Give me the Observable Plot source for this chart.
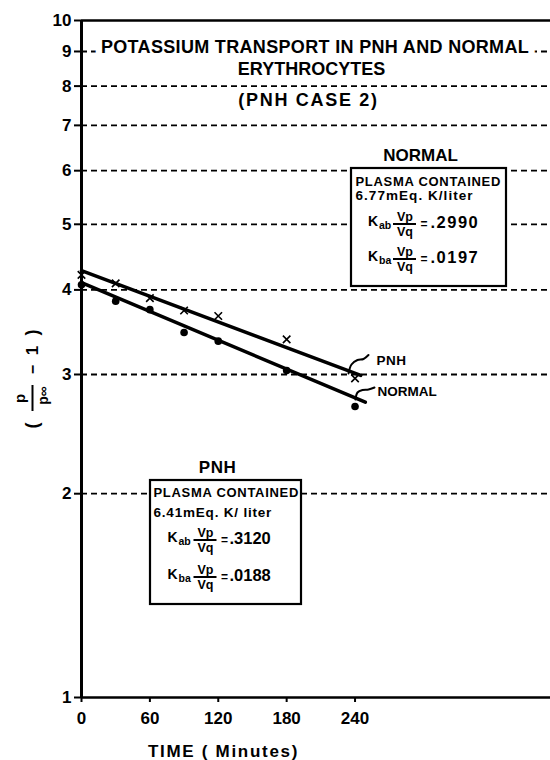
<!DOCTYPE html>
<html><head><meta charset="utf-8">
<script src="https://cdn.jsdelivr.net/npm/d3@7"></script>
<script src="https://cdn.jsdelivr.net/npm/@observablehq/plot@0.6"></script>
<style>body{margin:0;background:#fff}</style>
</head><body><div id="chart"></div>
<script>
// ---- data ----
const times = [0, 30, 60, 90, 120, 180, 240];
const pnhValues = [4.21, 4.09, 3.89, 3.73, 3.66, 3.38, 2.96];
const normalValues = [4.07, 3.85, 3.74, 3.46, 3.36, 3.04, 2.69];
const pnhFitTimes = [0, 245];
const pnhFitValues = [4.27, 2.99];
const normalFitTimes = [0, 249];
const normalFitValues = [4.10, 2.73];
const yTicks = [1, 2, 3, 4, 5, 6, 7, 8, 9, 10];
const gridValues = [2, 3, 4, 5, 6, 7, 8, 9];
const xTicks = [0, 60, 120, 180, 240];
const titleLines = ["POTASSIUM TRANSPORT IN PNH AND NORMAL", "ERYTHROCYTES", "(PNH CASE 2)"];

// ---- layout ----
const W = 550, H = 760, ML = 81, MT = 20, MB = 63, MR = 0;
const xMax = 411.5;
const X = px => (px - ML) / (W - ML - MR) * xMax;
const Y = py => Math.pow(10, (H - MB - py) / (H - MB - MT));
const FONT = "Liberation Sans, Arial, Helvetica, sans-serif";

const pnh = times.map((t, i) => ({t, v: pnhValues[i]}));
const normal = times.map((t, i) => ({t, v: normalValues[i]}));
const pnhFit = pnhFitTimes.map((t, i) => ({t, v: pnhFitValues[i]}));
const normalFit = normalFitTimes.map((t, i) => ({t, v: normalFitValues[i]}));

function T(s, px, py, o = {}) {
  return Plot.text([{t: X(px), v: Y(py), s}], {
    x: "t", y: "v", text: "s", fontWeight: "bold", fill: "black",
    lineAnchor: "middle", ...o
  });
}
function bar(px1, px2, py, w = 2) {
  return Plot.ruleY([{a: X(px1), b: X(px2), v: Y(py)}], {x1: "a", x2: "b", y: "v", stroke: "black", strokeWidth: w});
}
function vbar(px, py1, py2, w = 2) {
  return Plot.ruleX([{t: X(px), a: Y(py1), b: Y(py2)}], {x: "t", y1: "a", y2: "b", stroke: "black", strokeWidth: w});
}
function box(x1, y1, x2, y2) {
  return Plot.rect([{a: X(x1), b: X(x2), c: Y(y1), d: Y(y2)}], {x1: "a", x2: "b", y1: "c", y2: "d", fill: "white", stroke: "black", strokeWidth: 2.2});
}
function kRow(sub, kx, ky, fx, value, vx) {
  return [
    T("K", kx, ky, {fontSize: 14}),
    T(sub, kx + 6, ky + 4, {fontSize: 10.5, textAnchor: "start"}),
    T("Vp", fx, ky - 5, {fontSize: 12.5}),
    bar(fx - 11.5, fx + 11.5, ky + 2.5),
    T("Vq", fx, ky + 10, {fontSize: 12.5}),
    T("=", fx + 19, ky + 3, {fontSize: 12}),
    T(value, vx, ky + 1, {fontSize: 16.5, textAnchor: "start"})
  ];
}
function leader(pts) {
  return Plot.line(pts.map(([px, py]) => ({t: X(px), v: Y(py)})), {x: "t", y: "v", curve: "catmull-rom", stroke: "black", strokeWidth: 2});
}

const chart = Plot.plot({
  width: W, height: H,
  marginLeft: ML, marginTop: MT, marginBottom: MB, marginRight: MR,
  style: {fontFamily: FONT, background: "white", color: "black", overflow: "visible"},
  x: {domain: [0, xMax]},
  y: {type: "log", domain: [1, 10]},
  marks: [
    Plot.ruleY(gridValues, {stroke: "black", strokeWidth: 1.8, strokeDasharray: "6,4"}),
    Plot.ruleY([10], {stroke: "black", strokeWidth: 2.5}),
    Plot.ruleY([1], {stroke: "black", strokeWidth: 2.5}),
    Plot.ruleX([0], {stroke: "black", strokeWidth: 3}),
    Plot.axisY({ticks: yTicks, tickFormat: d => String(d), tickSize: 7, tickPadding: 3, fontSize: 17, fontWeight: "bold", strokeWidth: 2, label: null}),
    Plot.axisX({ticks: xTicks, tickFormat: d => String(d), tickSize: 5, tickPadding: 9, fontSize: 17, fontWeight: "bold", strokeWidth: 2, label: null}),
    // title
    T(titleLines[0], 314.5, 46.5, {fontSize: 18, stroke: "white", strokeWidth: 13}),
    T(titleLines[1], 311, 68.5, {fontSize: 18}),
    T(titleLines[2], 308, 100, {fontSize: 18}),
    // fitted lines and points
    Plot.line(pnhFit, {x: "t", y: "v", stroke: "black", strokeWidth: 3.5}),
    Plot.line(normalFit, {x: "t", y: "v", stroke: "black", strokeWidth: 3.5}),
    Plot.dot(pnh, {x: "t", y: "v", symbol: "times", r: 3.5, stroke: "black", strokeWidth: 1.6}),
    Plot.dot(normal, {x: "t", y: "v", r: 3.8, fill: "black"}),
    // line labels
    leader([[348, 373], [351, 364], [357, 359.5], [363, 358.5], [368, 354.5]]),
    leader([[355, 399], [357, 392], [362, 389.5], [368, 389], [374, 387]]),
    T("PNH", 376, 360, {fontSize: 13.5, textAnchor: "start"}),
    T("NORMAL", 377, 391, {fontSize: 13.5, textAnchor: "start"}),
    // NORMAL box
    T("NORMAL", 420, 155, {fontSize: 17}),
    box(351, 168, 506, 286),
    T("PLASMA CONTAINED", 355, 181.5, {fontSize: 13, textAnchor: "start"}),
    T("6.77mEq. K/liter", 355, 195, {fontSize: 13.5, textAnchor: "start"}),
    ...kRow("ab", 372.5, 221, 404.5, ".2990", 430),
    ...kRow("ba", 372.5, 256, 404.5, ".0197", 430),
    // PNH box
    T("PNH", 217, 467, {fontSize: 17}),
    box(150, 480, 301, 604),
    T("PLASMA CONTAINED", 153, 492.5, {fontSize: 13, textAnchor: "start"}),
    T("6.41mEq. K/ liter", 153, 512, {fontSize: 13.5, textAnchor: "start"}),
    ...kRow("ab", 172, 537, 205, ".3120", 229),
    ...kRow("ba", 172, 574, 205, ".0188", 229),
    // y-axis label (rotated)
    T("(", 32, 425, {fontSize: 18, rotate: -90}),
    T("p", 20, 398, {fontSize: 15, rotate: -90}),
    vbar(32, 385, 411),
    T("p∞", 43, 395, {fontSize: 14, rotate: -90}),
    T("−", 32, 369, {fontSize: 16, rotate: -90}),
    T("1", 32, 350, {fontSize: 17, rotate: -90}),
    T(")", 32, 332, {fontSize: 18, rotate: -90}),
    // x-axis label
    T("TIME ( Minutes)", 223, 751, {fontSize: 17})
  ]
});

// letter spacing (Plot has no option for it), keyed by text content
const spacing = new Map([
  [titleLines[0], 0.33], [titleLines[2], 1.7],
  ["PLASMA CONTAINED", 0.7],
  ["6.77mEq. K/liter", 1.05], ["6.41mEq. K/ liter", 0.8],
  [".2990", 1.5], [".0197", 1.5],
  ["TIME ( Minutes)", 1.7], ["PNH", 0.5]
]);
chart.querySelectorAll("text").forEach(el => {
  const s = spacing.get(el.textContent);
  if (s != null) el.style.letterSpacing = s + "px";
});
document.getElementById("chart").appendChild(chart);
</script>
</body></html>
